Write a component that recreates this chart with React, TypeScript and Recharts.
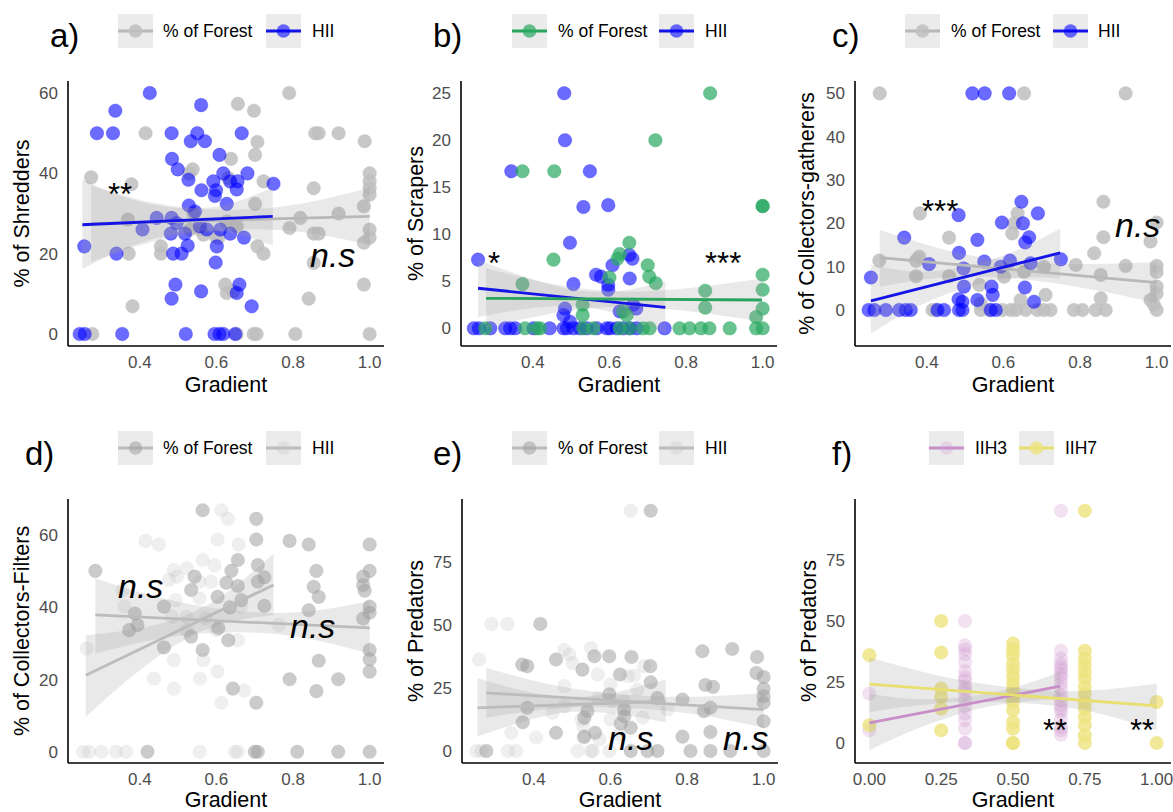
import React from 'react';
import { ComposedChart, Scatter, Line, Area, XAxis, YAxis, Label } from 'recharts';

type Pt = [number, number];
type Bd = [number, number, number];

// ---------- Panel a : Shredders ----------
const aForest: Pt[] = [[0.79,60],[0.656,57.3],[0.698,55.6],[0.415,50],[0.858,50],[0.867,50],[0.919,50],[0.987,48],[0.707,47.8],[0.638,43.6],[0.701,44.6],[0.538,41],[0.529,40],[0.273,39],[0.378,37.3],[0.631,38.8],[0.723,38],[0.854,36.3],[1.0,40],[1.0,38],[1.0,36.3],[1.0,34.7],[0.701,32.4],[0.985,31.8],[0.919,30],[0.54,30],[0.627,28],[0.369,28.5],[0.819,28.9],[0.791,26.4],[0.854,25],[0.867,25],[1.0,26],[1.0,24],[0.985,22.7],[0.531,26],[0.566,24.7],[0.605,23.9],[0.653,26.8],[0.455,21.8],[0.455,20],[0.371,20],[0.707,21.8],[0.723,20],[0.854,17.7],[0.381,6.9],[0.841,8.8],[0.985,12.3],[0.623,12.3],[0.627,10.2],[0.644,10.6],[0.276,0],[0.653,0],[0.697,0],[0.705,0],[0.806,0],[1.0,0],[0.598,24.2],[0.557,26]];
const aHII: Pt[] = [[0.426,60],[0.336,55.6],[0.288,50],[0.33,50],[0.483,50],[0.55,50],[0.56,57],[0.533,48],[0.57,48],[0.666,50],[0.608,44.6],[0.484,43.6],[0.499,41],[0.527,38.4],[0.561,35.8],[0.592,38],[0.618,40],[0.636,38],[0.655,38],[0.681,40],[0.599,35.8],[0.653,36],[0.749,37.4],[0.596,34.4],[0.627,32.4],[0.528,32],[0.544,30.5],[0.444,28.9],[0.483,28.9],[0.496,27.6],[0.407,26],[0.481,25],[0.525,22],[0.518,25],[0.575,26],[0.636,25],[0.672,24],[0.601,21.8],[0.598,17.8],[0.487,20],[0.509,20],[0.339,20],[0.255,21.8],[0.493,12.3],[0.483,8.8],[0.56,10.6],[0.66,12.3],[0.653,10.2],[0.692,6.9],[0.243,0],[0.256,0],[0.354,0],[0.52,0],[0.595,0],[0.608,0],[0.618,0],[0.649,0],[0.557,26.8],[0.61,26]];
const aForestFit: Pt[] = [[0.273,27.5],[1.0,29.3]];
const aForestBand: Bd[] = [[0.273,17.9,37.0],[0.45,23.4,32.4],[0.64,25.9,30.9],[0.82,25.4,32.4],[1.0,22.2,36.4]];
const aHIIFit: Pt[] = [[0.25,27.2],[0.747,29.3]];
const aHIIBand: Bd[] = [[0.25,16.2,38.4],[0.375,21.8,33.6],[0.5,25.0,31.4],[0.625,25.4,32.2],[0.747,22.0,36.5]];

// ---------- Panel b : Scrapers ----------
const bForest: Pt[] = [[0.863,25],[0.72,20],[0.373,16.7],[0.456,16.7],[1.0,13],[1.0,13],[0.454,7.3],[0.652,9.1],[0.627,7.9],[0.621,7.4],[0.7,6.7],[0.704,5.5],[0.721,4.8],[0.373,4.7],[0.6,5.4],[0.85,4.0],[0.85,2.2],[1.0,5.7],[1.0,4.1],[1.0,2.1],[0.983,1.2],[0.53,2.5],[0.53,1.4],[0.636,1.8],[0.645,1.4],[0.276,0],[0.38,0],[0.411,0],[0.419,0],[0.532,0],[0.558,0],[0.627,0],[0.653,0],[0.688,0],[0.705,0],[0.783,0],[0.809,0],[0.839,0],[0.861,0],[0.914,0],[0.983,0],[1.0,0]];
const bHII: Pt[] = [[0.482,25],[0.484,20],[0.344,16.7],[0.549,16.7],[0.532,12.9],[0.597,13.1],[0.497,9.1],[0.257,7.3],[0.608,6.7],[0.652,7.8],[0.66,7.4],[0.506,4.7],[0.565,5.7],[0.578,5.5],[0.597,4.6],[0.597,4.1],[0.653,5.3],[0.484,2.1],[0.48,1.4],[0.497,0.7],[0.627,1.8],[0.67,2.1],[0.662,2.5],[0.246,0],[0.259,0],[0.289,0],[0.328,0],[0.341,0],[0.354,0],[0.402,0],[0.444,0],[0.48,0],[0.489,0],[0.506,0],[0.523,0],[0.541,0],[0.567,0],[0.593,0],[0.602,0],[0.619,0],[0.636,0],[0.654,0],[0.671,0],[0.744,0]];
const bForestFit: Pt[] = [[0.278,3.19],[0.998,3.01]];
const bForestBand: Bd[] = [[0.278,0,6.4],[0.46,1.65,4.65],[0.64,2.3,3.9],[0.82,1.75,4.35],[0.998,0.7,5.3]];
const bHIIFit: Pt[] = [[0.257,4.26],[0.746,2.23]];
const bHIIBand: Bd[] = [[0.257,1.2,7.3],[0.38,2.05,5.45],[0.5,2.35,4.15],[0.62,1.55,3.95],[0.746,-0.54,5.0]];

// ---------- Panel c : Collectors-gatherers ----------
const cForest: Pt[] = [[0.277,50],[0.654,50],[0.919,50],[0.861,25],[0.382,22.3],[0.637,22.3],[0.628,20],[1.0,20.2],[0.458,16.7],[0.861,16.8],[0.623,17.7],[0.984,15.8],[0.837,13.1],[0.276,11.4],[0.372,11.4],[0.38,12.3],[0.789,10.4],[0.919,10.2],[1.0,10.2],[1.0,8.8],[0.854,8.1],[0.372,7.8],[0.458,7.8],[0.706,10],[0.602,7.7],[0.654,8.8],[0.537,5.8],[1.0,5.4],[1.0,3.8],[0.71,3.5],[0.854,2.7],[0.984,2.3],[0.993,1.2],[0.541,1.5],[0.645,2.3],[0.415,0],[0.423,0],[0.541,0],[0.563,0],[0.597,0],[0.619,0],[0.632,0],[0.658,0],[0.689,0],[0.706,0],[0.723,0],[0.784,0],[0.806,0],[0.841,0],[0.867,0],[1.0,0]];
const cHII: Pt[] = [[0.519,50],[0.551,50],[0.615,50],[0.647,25],[0.483,21.9],[0.69,22.3],[0.596,20.2],[0.651,20],[0.667,16.8],[0.657,15.6],[0.532,16.2],[0.341,16.7],[0.484,13.2],[0.75,11.7],[0.406,10.6],[0.55,11.2],[0.617,11.4],[0.671,10.8],[0.496,9.6],[0.593,10],[0.254,7.5],[0.497,5.4],[0.569,5.4],[0.656,5.2],[0.572,3.5],[0.483,2.5],[0.493,1.9],[0.532,2.3],[0.68,1.9],[0.248,0],[0.263,0],[0.293,0],[0.328,0],[0.345,0],[0.358,0],[0.428,0],[0.445,0],[0.484,0],[0.493,0],[0.567,0],[0.58,0]];
const cForestFit: Pt[] = [[0.277,12.1],[1.0,6.3]];
const cForestBand: Bd[] = [[0.277,5.4,18.5],[0.46,7.6,13.6],[0.64,7.2,11.2],[0.82,4.9,10.6],[1.0,1.6,11.0]];
const cHIIFit: Pt[] = [[0.254,2.1],[0.748,13.2]];
const cHIIBand: Bd[] = [[0.254,-5.4,10.4],[0.377,0.86,8.86],[0.5,5.1,10.1],[0.625,7.4,13.4],[0.748,7.3,18.8]];

// ---------- Panel d : Collectors-Filters ----------
const dForest: Pt[] = [[0.564,66.9],[0.704,64.5],[0.704,58.8],[0.791,58.4],[0.841,57.4],[1.0,57.4],[0.284,50.1],[0.861,50.1],[1.0,50.1],[0.656,53.1],[0.639,50.1],[0.708,51.7],[0.983,48.5],[0.543,48.5],[0.854,45.7],[0.983,46.2],[0.987,44.6],[0.708,47.1],[0.725,48.3],[0.656,45.9],[0.626,46.8],[0.603,42.9],[0.534,44.8],[0.867,42.9],[0.725,40.4],[0.635,40],[0.463,40.2],[0.841,39.2],[1.0,40.2],[1.0,38.5],[0.387,38.3],[0.372,33.7],[0.394,35.1],[0.983,36.9],[0.665,42],[0.534,31.9],[0.631,30.9],[0.605,34.2],[0.463,28.9],[0.564,28.2],[1.0,28.2],[1.0,25.6],[0.867,25.2],[1.0,22.2],[0.791,20.1],[0.918,20.1],[0.643,17.5],[0.861,16.8],[0.704,13.6],[0.42,0],[0.7,0],[0.708,0],[0.811,0],[0.918,0],[1.0,0]];
const dHII: Pt[] = [[0.613,66.9],[0.63,64.5],[0.415,58.4],[0.45,57.4],[0.603,58.8],[0.658,57.4],[0.564,53.1],[0.523,50.8],[0.489,50.3],[0.595,51.7],[0.497,48.5],[0.476,47.6],[0.586,47.1],[0.355,44.8],[0.36,40.2],[0.493,42],[0.556,42.5],[0.664,40.2],[0.484,37.4],[0.522,37.4],[0.572,36.9],[0.763,35.1],[0.599,33.7],[0.522,33.7],[0.656,30.9],[0.261,28.6],[0.566,25.4],[0.489,25.4],[0.557,20.3],[0.437,20.3],[0.489,17.5],[0.603,22.2],[0.673,16.9],[0.613,13.6],[0.556,47.1],[0.252,0],[0.268,0],[0.3,0],[0.338,0],[0.364,0],[0.556,0],[0.648,0],[0.656,0]];
const dForestFit: Pt[] = [[0.284,37.9],[1.0,34.3]];
const dForestBand: Bd[] = [[0.284,27.2,48.0],[0.46,31.5,42.5],[0.64,33.1,39.1],[0.82,31.7,38.7],[1.0,27.2,41.7]];
const dHIIFit: Pt[] = [[0.259,21.2],[0.749,46.2]];
const dHIIBand: Bd[] = [[0.259,9.7,32.3],[0.38,20.9,33.9],[0.5,30.0,37.0],[0.62,35.6,43.6],[0.749,37.9,54.8]];

// ---------- Panel e : Predators ----------
const eForest: Pt[] = [[0.705,95.1],[0.417,50.3],[0.84,39.5],[0.918,40.4],[0.983,37.2],[0.558,37.5],[0.597,37.5],[0.655,37.2],[0.458,36.2],[0.37,34.2],[0.383,33.6],[0.704,33.6],[0.527,32.2],[0.625,30.3],[0.981,30.9],[1.0,29.3],[0.705,27.2],[0.848,26.1],[0.868,25.4],[1.0,24.6],[1.0,21.7],[0.597,22.4],[0.723,21],[0.788,20.4],[1.0,19.1],[0.383,17.1],[0.54,15.8],[0.636,16.4],[0.844,15.8],[0.861,17.1],[0.532,13.2],[0.371,11.4],[0.627,10.9],[1.0,11.8],[0.653,9.2],[0.458,7.2],[0.56,7.2],[0.532,5.7],[0.788,5.7],[0.861,7.5],[0.636,13.8],[0.276,0],[0.653,0],[0.697,0],[0.723,0],[0.809,0],[0.861,0],[0.913,0],[1.0,0]];
const eHII: Pt[] = [[0.653,95.1],[0.289,50.3],[0.331,50.3],[0.257,36.2],[0.549,40.8],[0.48,40.1],[0.493,38.2],[0.501,34.9],[0.48,25.7],[0.567,30.3],[0.6,26.3],[0.646,29.6],[0.662,29.9],[0.688,33.6],[0.671,24.3],[0.605,19.7],[0.567,21],[0.48,17.8],[0.449,15.1],[0.636,19.7],[0.684,13.2],[0.749,16.4],[0.601,12.5],[0.525,12.5],[0.529,9.9],[0.341,7.2],[0.406,5.3],[0.529,5.3],[0.623,6.6],[0.571,4.6],[0.25,0],[0.263,0],[0.332,0],[0.354,0],[0.514,0],[0.549,0],[0.554,0],[0.597,0]];
const eForestFit: Pt[] = [[0.276,23],[1.0,16.4]];
const eForestBand: Bd[] = [[0.276,13.2,32.9],[0.46,16.8,25.8],[0.64,17.1,22.3],[0.82,14.5,21.5],[1.0,9.2,23.0]];
const eHIIFit: Pt[] = [[0.253,17.1],[0.744,19.7]];
const eHIIBand: Bd[] = [[0.253,5.7,28.9],[0.375,11.75,23.75],[0.5,15.4,21.4],[0.62,14.5,23.5],[0.744,11.4,28.3]];

// ---------- Panel f : Predators vs IIH ----------
const fIIH3: Pt[] = [[0,20.2],[0,5.2],[0.333,50],[0.333,40],[0.333,38.3],[0.333,36.4],[0.333,33.2],[0.333,29.5],[0.333,27],[0.333,25.7],[0.333,23.3],[0.333,21.9],[0.333,20.5],[0.333,17.5],[0.333,14.8],[0.333,12],[0.333,9.3],[0.333,5.9],[0.333,0],[0.333,0],[0.667,95.2],[0.667,37.8],[0.667,34.6],[0.667,32.6],[0.667,31],[0.667,29.8],[0.667,28],[0.667,26.8],[0.667,24.6],[0.667,22.3],[0.667,19.6],[0.667,17.5],[0.667,15.5],[0.667,14],[0.667,12.7],[0.667,9.6],[0.667,6.6],[0.667,5.2],[0.667,3.4]];
const fIIH7: Pt[] = [[0,36],[0,7.3],[0.25,50],[0.25,37.1],[0.25,22.3],[0.25,18.9],[0.25,14.1],[0.25,5.2],[0.5,40.8],[0.5,38.3],[0.5,36],[0.5,32.6],[0.5,30.1],[0.5,27.1],[0.5,24.4],[0.5,21.6],[0.5,18.9],[0.5,16.8],[0.5,13.4],[0.5,8.6],[0.5,5.9],[0.5,0],[0.5,0],[0.75,95.2],[0.75,37.8],[0.75,34.6],[0.75,31.9],[0.75,29.1],[0.75,26.4],[0.75,23],[0.75,20.2],[0.75,16.8],[0.75,14.1],[0.75,10.7],[0.75,7.3],[0.75,3.1],[0.75,0],[1.0,16.8],[1.0,0]];
const fIIH3Fit: Pt[] = [[0,8.2],[0.665,23.3]];
const fIIH3Band: Bd[] = [[0,-3.0,20.2],[0.17,6.0,18.0],[0.35,13.1,19.2],[0.5,16.5,22.6],[0.665,18.2,29.1]];
const fIIH7Fit: Pt[] = [[0,24.1],[1.0,15.2]];
const fIIH7Band: Bd[] = [[0,12.7,35.0],[0.25,16.4,27.4],[0.5,16.6,22.7],[0.75,13.4,21.4],[1.0,5.2,24.4]];

// ---------- ticks / labels ----------
const xTicksGrad = [0.4, 0.6, 0.8, 1.0];
const xTicksF = [0, 0.25, 0.5, 0.75, 1.0];
const yTicksA = [0, 20, 40, 60];
const yTicksB = [0, 5, 10, 15, 20, 25];
const yTicksC = [0, 10, 20, 30, 40, 50];
const yTicksD = [0, 20, 40, 60];
const yTicksE = [0, 25, 50, 75];
const yTicksF = [0, 25, 50, 75];
const yTitles = ['% of Shredders', '% of Scrapers', '% of Collectors-gatherers', '% of Collectors-Filters', '% of Predators', '% of Predators'];
const panelLetters = ['a)', 'b)', 'c)', 'd)', 'e)', 'f)'];
const legendLabels = [['% of Forest', 'HII'], ['% of Forest', 'HII'], ['% of Forest', 'HII'], ['% of Forest', 'HII'], ['% of Forest', 'HII'], ['IIH3', 'IIH7']];

// ---------- styles ----------
const GRAY = { fill: '#bebebe', op: 0.85, line: '#b8b8b8' };
const BLUE = { fill: '#0000ff', op: 0.58, line: '#1414e6' };
const GREEN = { fill: '#28a860', op: 0.7, line: '#2aa35c' };
const DARKG = { fill: '#a0a0a0', op: 0.55, line: '#bcbcbc' };
const LIGHTG = { fill: '#bebebe', op: 0.25, line: '#bcbcbc' };
const PURPLE = { fill: '#d29ad2', op: 0.3, line: '#c88ec8' };
const YELLOW = { fill: '#ede27e', op: 0.8, line: '#e9df6f' };

type Sty = { fill: string; op: number; line: string };
interface Fit { pts: Pt[]; band: Bd[]; sty: Sty }
interface Cfg {
  left: number; top: number; width: number; height: number;
  margin: { top: number; right: number; bottom: number; left: number };
  xDomain: [number, number]; xTicks: number[]; xDigits: number;
  yDomain: [number, number]; yTicks: number[];
  yTitle: string; yOff: number; xOff: number;
  series: { pts: Pt[]; sty: Sty }[];
  fits: Fit[];
}

const XD: [number, number] = [0.2125, 1.0375];

const panels: Cfg[] = [
  { left: 0, top: 0, width: 390, height: 400, margin: { top: 81, right: 6, bottom: 24, left: 28 }, xDomain: XD, xTicks: xTicksGrad, xDigits: 1, yDomain: [-3, 63], yTicks: yTicksA, yTitle: yTitles[0], yOff: -6.5, xOff: 1,
    series: [{ pts: aForest, sty: GRAY }, { pts: aHII, sty: BLUE }],
    fits: [{ pts: aForestFit, band: aForestBand, sty: GRAY }, { pts: aHIIFit, band: aHIIBand, sty: BLUE }] },
  { left: 390, top: 0, width: 390, height: 400, margin: { top: 81, right: 3, bottom: 24, left: 31 }, xDomain: XD, xTicks: xTicksGrad, xDigits: 1, yDomain: [-1.88, 26.3], yTicks: yTicksB, yTitle: yTitles[1], yOff: -6, xOff: 1,
    series: [{ pts: bHII, sty: BLUE }, { pts: bForest, sty: GREEN }],
    fits: [{ pts: bHIIFit, band: bHIIBand, sty: BLUE }, { pts: bForestFit, band: bForestBand, sty: GREEN }] },
  { left: 780, top: 0, width: 393, height: 400, margin: { top: 81, right: 2, bottom: 24, left: 35 }, xDomain: XD, xTicks: xTicksGrad, xDigits: 1, yDomain: [-8.3, 52.85], yTicks: yTicksC, yTitle: yTitles[2], yOff: -8.5, xOff: 1,
    series: [{ pts: cForest, sty: GRAY }, { pts: cHII, sty: BLUE }],
    fits: [{ pts: cForestFit, band: cForestBand, sty: GRAY }, { pts: cHIIFit, band: cHIIBand, sty: BLUE }] },
  { left: 0, top: 400, width: 390, height: 412, margin: { top: 99, right: 6, bottom: 19, left: 28 }, xDomain: XD, xTicks: xTicksGrad, xDigits: 1, yDomain: [-3.1, 70], yTicks: yTicksD, yTitle: yTitles[3], yOff: -6.3, xOff: -1,
    series: [{ pts: dHII, sty: LIGHTG }, { pts: dForest, sty: DARKG }],
    fits: [{ pts: dForestFit, band: dForestBand, sty: DARKG }, { pts: dHIIFit, band: dHIIBand, sty: LIGHTG }] },
  { left: 390, top: 400, width: 390, height: 412, margin: { top: 99, right: 2, bottom: 19, left: 32 }, xDomain: XD, xTicks: xTicksGrad, xDigits: 1, yDomain: [-4.75, 99.75], yTicks: yTicksE, yTitle: yTitles[4], yOff: -7, xOff: -1,
    series: [{ pts: eHII, sty: LIGHTG }, { pts: eForest, sty: DARKG }],
    fits: [{ pts: eForestFit, band: eForestBand, sty: DARKG }, { pts: eHIIFit, band: eHIIBand, sty: LIGHTG }] },
  { left: 780, top: 400, width: 393, height: 412, margin: { top: 99, right: 2, bottom: 19, left: 35 }, xDomain: [-0.05, 1.05], xTicks: xTicksF, xDigits: 2, yDomain: [-8.2, 100], yTicks: yTicksF, yTitle: yTitles[5], yOff: -7, xOff: -1,
    series: [{ pts: fIIH3, sty: PURPLE }, { pts: fIIH7, sty: YELLOW }],
    fits: [{ pts: fIIH3Fit, band: fIIH3Band, sty: PURPLE }, { pts: fIIH7Fit, band: fIIH7Band, sty: YELLOW }] },
];

const toPts = (a: Pt[]) => a.map(([x, y]) => ({ x, y }));
const toBand = (a: Bd[]) => a.map(([x, lo, hi]) => ({ x, r: [lo, hi] }));
const dot = (fill: string, op: number) => (p: any) => (
  <circle cx={p.cx} cy={p.cy} r={6.8} fill={fill} fillOpacity={op} stroke={fill} strokeOpacity={op * 0.5} strokeWidth={0.8} />
);

const FONT = '"Liberation Sans", Arial, Helvetica, sans-serif';

function Panel({ c }: { c: Cfg }) {
  return (
    <div style={{ position: 'absolute', left: c.left, top: c.top }}>
      <ComposedChart width={c.width} height={c.height} margin={c.margin}>
        <XAxis type="number" dataKey="x" domain={c.xDomain} ticks={c.xTicks} allowDataOverflow interval={0}
          tickFormatter={(v: number) => v.toFixed(c.xDigits)} axisLine={{ stroke: '#000', strokeWidth: 1.6 }}
          tickLine={false} tickMargin={4} height={30} tick={{ fontSize: 17, fill: '#4d4d4d' }}>
          <Label value="Gradient" position="bottom" offset={c.xOff} style={{ fontSize: 21.5, fill: '#000' }} />
        </XAxis>
        <YAxis type="number" domain={c.yDomain} ticks={c.yTicks} allowDataOverflow interval={0} width={40}
          axisLine={{ stroke: '#000', strokeWidth: 1.6 }} tickLine={false} tickMargin={4}
          tick={{ fontSize: 17, fill: '#4d4d4d' }}>
          <Label value={c.yTitle} angle={-90} position="insideLeft" offset={c.yOff}
            style={{ fontSize: 21.5, fill: '#000', textAnchor: 'middle' }} />
        </YAxis>
        {c.series.map((s, i) => (
          <Scatter key={'s' + i} data={toPts(s.pts)} dataKey="y" shape={dot(s.sty.fill, s.sty.op)}
            isAnimationActive={false} zIndex={100} />
        ))}
        {c.fits.map((f, i) => (
          <Area key={'b' + i} data={toBand(f.band)} dataKey="r" type="natural" stroke="none" fill="#999999"
            fillOpacity={0.22} dot={false} activeDot={false} isAnimationActive={false} zIndex={200} />
        ))}
        {c.fits.map((f, i) => (
          <Line key={'l' + i} data={toPts(f.pts)} dataKey="y" type="linear" stroke={f.sty.line} strokeWidth={2.8}
            dot={false} activeDot={false} isAnimationActive={false} zIndex={300} />
        ))}
      </ComposedChart>
    </div>
  );
}

// overlay positions (letters, legends, annotations)
const letterPos: Pt[] = [[50, 47], [433, 47], [832, 47], [25, 465], [433, 465], [832, 465]];
const legendPos = [
  { y: 14, keys: [118, 266], texts: [163, 312], sty: [GRAY, BLUE] },
  { y: 14, keys: [512, 659], texts: [558, 705], sty: [GREEN, BLUE] },
  { y: 14, keys: [905, 1053], texts: [951, 1098], sty: [GRAY, BLUE] },
  { y: 431, keys: [118, 266], texts: [163, 312], sty: [DARKG, LIGHTG] },
  { y: 431, keys: [512, 659], texts: [558, 705], sty: [DARKG, LIGHTG] },
  { y: 431, keys: [929, 1019], texts: [975, 1065], sty: [PURPLE, YELLOW] },
];
const notes: { t: string; x: number; y: number; it: boolean }[] = [
  { t: '**', x: 108, y: 205, it: false }, { t: 'n.s', x: 310, y: 267, it: true },
  { t: '*', x: 488, y: 274, it: false }, { t: '***', x: 705, y: 274, it: false },
  { t: '***', x: 922, y: 222, it: false }, { t: 'n.s', x: 1115, y: 237, it: true },
  { t: 'n.s', x: 118, y: 598, it: true }, { t: 'n.s', x: 290, y: 638, it: true },
  { t: 'n.s', x: 608, y: 750, it: true }, { t: 'n.s', x: 723, y: 750, it: true },
  { t: '**', x: 1043, y: 741, it: false }, { t: '**', x: 1130, y: 741, it: false },
];

export default function App() {
  return (
    <div style={{ position: 'absolute', left: 0, top: 0, width: 1173, height: 812, background: '#fff', fontFamily: FONT, overflow: 'hidden' }}>
      {panels.map((c, i) => <Panel key={i} c={c} />)}
      <svg width={1173} height={812} style={{ position: 'absolute', left: 0, top: 0, pointerEvents: 'none', fontFamily: FONT }}>
        {letterPos.map(([x, y], i) => (
          <text key={'L' + i} x={x} y={y} fontSize={33} fill="#000">{panelLetters[i]}</text>
        ))}
        {legendPos.map((lg, i) => (
          <g key={'G' + i}>
            {lg.keys.map((kx, j) => (
              <g key={j}>
                <rect x={kx} y={lg.y} width={35} height={34} fill="#ebebeb" />
                <line x1={kx} x2={kx + 35} y1={lg.y + 17} y2={lg.y + 17} stroke={lg.sty[j].line} strokeWidth={2.8} />
                <circle cx={kx + 17.5} cy={lg.y + 17} r={6.8} fill={lg.sty[j].fill} fillOpacity={lg.sty[j].op} />
                <text x={lg.texts[j]} y={lg.y + 17} dominantBaseline="central" fontSize={17.5} fill="#000">{legendLabels[i][j]}</text>
              </g>
            ))}
          </g>
        ))}
        {notes.map((n, i) => (
          <text key={'N' + i} x={n.x} y={n.y} fontSize={n.it ? 34 : 31} fontStyle={n.it ? 'italic' : 'normal'} fill="#000">{n.t}</text>
        ))}
      </svg>
    </div>
  );
}
